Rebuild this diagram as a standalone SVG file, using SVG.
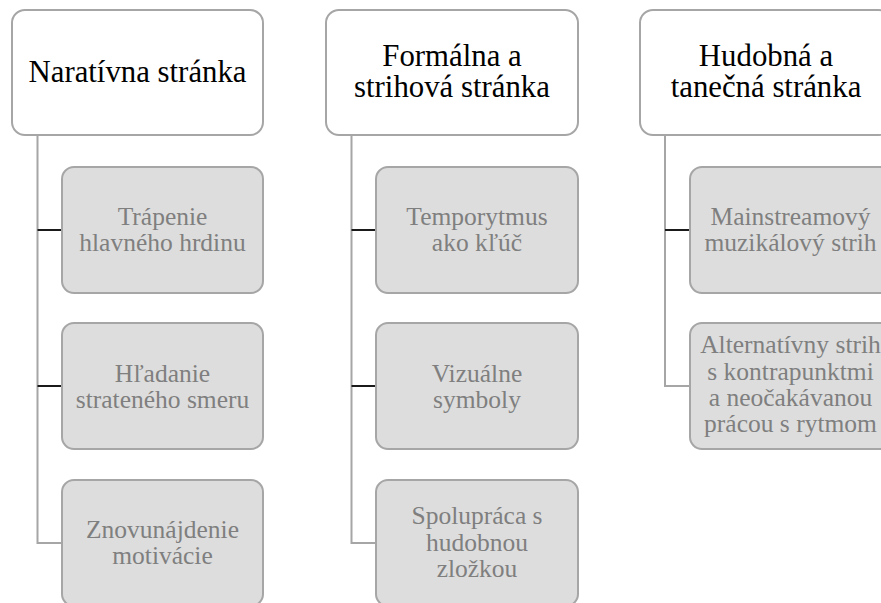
<svg xmlns="http://www.w3.org/2000/svg" width="881" height="603" viewBox="0 0 881 603">
<style>
.head{fill:#ffffff;stroke:#a6a6a6;stroke-width:2}
.child{fill:#dddddd;stroke:#a6a6a6;stroke-width:2}
text{font-family:"Liberation Serif","Times New Roman",Tinos,serif}
.ht{font-size:30.8px;fill:#000000;text-anchor:middle}
.ct{font-size:25.5px;fill:#7f7f7f;text-anchor:middle}
.vline{fill:none;stroke:#a6a6a6;stroke-width:2}
.tick{fill:none;stroke:#1a1a1a;stroke-width:2}
</style>
<rect width="881" height="603" fill="#ffffff"/>
<g id="connectors">
<path class="vline" d="M37.5 135 V543 H62"/>
<path class="tick" d="M37.5 230 H62 M37.5 386 H62"/>
<path class="vline" d="M351.5 135 V543 H376"/>
<path class="tick" d="M351.5 230 H376 M351.5 386 H376"/>
<path class="vline" d="M665 135 V386 H690"/>
<path class="tick" d="M665 230 H690"/>
</g>
<g id="n1">
<rect class="head" x="12" y="10" width="251" height="125" rx="13"/>
<text class="ht" x="137.5" y="82">Naratívna stránka</text>
</g>
<g id="n1a">
<rect class="child" x="62" y="167" width="201" height="126" rx="12"/>
<text class="ct" x="162.5" y="225">Trápenie</text>
<text class="ct" x="162.5" y="251">hlavného hrdinu</text>
</g>
<g id="n1b">
<rect class="child" x="62" y="323" width="201" height="126" rx="12"/>
<text class="ct" x="162.5" y="382">Hľadanie</text>
<text class="ct" x="162.5" y="408">strateného smeru</text>
</g>
<g id="n1c">
<rect class="child" x="62" y="480" width="201" height="126" rx="12"/>
<text class="ct" x="162.5" y="538">Znovunájdenie</text>
<text class="ct" x="162.5" y="564">motivácie</text>
</g>
<g id="n2">
<rect class="head" x="326" y="10" width="252" height="125" rx="13"/>
<text class="ht" x="452" y="66">Formálna a</text>
<text class="ht" x="452" y="97">strihová stránka</text>
</g>
<g id="n2a">
<rect class="child" x="376" y="167" width="202" height="126" rx="12"/>
<text class="ct" x="477" y="225">Temporytmus</text>
<text class="ct" x="477" y="251">ako kľúč</text>
</g>
<g id="n2b">
<rect class="child" x="376" y="323" width="202" height="126" rx="12"/>
<text class="ct" x="477" y="382">Vizuálne</text>
<text class="ct" x="477" y="408">symboly</text>
</g>
<g id="n2c">
<rect class="child" x="376" y="480" width="202" height="126" rx="12"/>
<text class="ct" x="477" y="524">Spolupráca s</text>
<text class="ct" x="477" y="550.5">hudobnou</text>
<text class="ct" x="477" y="577">zložkou</text>
</g>
<g id="n3">
<rect class="head" x="640" y="10" width="252" height="125" rx="13"/>
<text class="ht" x="766" y="66">Hudobná a</text>
<text class="ht" x="766" y="97">tanečná stránka</text>
</g>
<g id="n3a">
<rect class="child" x="690" y="167" width="202" height="126" rx="12"/>
<text class="ct" x="790.5" y="225">Mainstreamový</text>
<text class="ct" x="790.5" y="251">muzikálový strih</text>
</g>
<g id="n3b">
<rect class="child" x="690" y="323" width="202" height="126" rx="12"/>
<text class="ct" x="790.5" y="353">Alternatívny strih</text>
<text class="ct" x="790.5" y="379.5">s kontrapunktmi</text>
<text class="ct" x="790.5" y="406">a neočakávanou</text>
<text class="ct" x="790.5" y="432">prácou s rytmom</text>
</g>
</svg>
